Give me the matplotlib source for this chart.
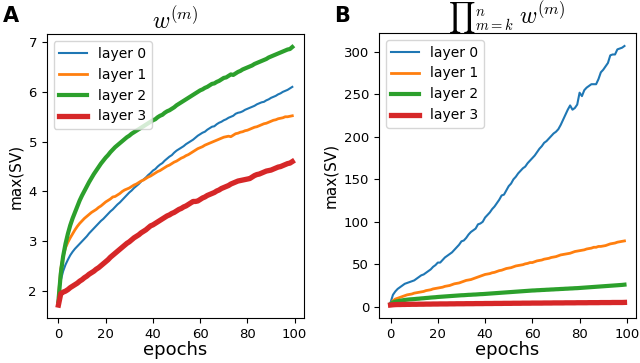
import matplotlib
matplotlib.use("Agg")
import matplotlib.pyplot as plt
import numpy as np

plt.rcParams['mathtext.fontset'] = 'cm'

epochs = np.arange(100)
labels = ["layer 0", "layer 1", "layer 2", "layer 3"]

# panel A: max singular value of each weight matrix
a_layer0 = [1.90, 2.22, 2.40, 2.53, 2.63, 2.72, 2.79, 2.85, 2.90, 2.95,
            3.00, 3.05, 3.10, 3.16, 3.21, 3.26, 3.31, 3.36, 3.41, 3.45,
            3.50, 3.55, 3.60, 3.64, 3.69, 3.74, 3.78, 3.83, 3.88, 3.93,
            3.98, 4.02, 4.07, 4.11, 4.15, 4.20, 4.24, 4.28, 4.33, 4.37,
            4.42, 4.45, 4.50, 4.54, 4.57, 4.62, 4.66, 4.70, 4.73, 4.78,
            4.82, 4.85, 4.88, 4.91, 4.95, 4.98, 5.01, 5.04, 5.08, 5.12,
            5.15, 5.18, 5.20, 5.24, 5.27, 5.30, 5.31, 5.35, 5.38, 5.40,
            5.43, 5.45, 5.48, 5.50, 5.52, 5.56, 5.58, 5.59, 5.61, 5.64,
            5.66, 5.68, 5.70, 5.72, 5.75, 5.77, 5.79, 5.80, 5.83, 5.85,
            5.88, 5.90, 5.92, 5.95, 5.97, 6.00, 6.02, 6.04, 6.07, 6.10]
a_layer1 = [1.90, 2.45, 2.70, 2.87, 2.98, 3.07, 3.15, 3.23, 3.30, 3.36,
            3.41, 3.46, 3.50, 3.54, 3.58, 3.61, 3.64, 3.68, 3.71, 3.75,
            3.79, 3.82, 3.85, 3.89, 3.90, 3.93, 3.96, 4.00, 4.03, 4.05,
            4.07, 4.10, 4.13, 4.15, 4.18, 4.21, 4.23, 4.26, 4.29, 4.31,
            4.34, 4.37, 4.40, 4.42, 4.45, 4.48, 4.51, 4.53, 4.56, 4.59,
            4.61, 4.64, 4.67, 4.69, 4.72, 4.74, 4.77, 4.80, 4.83, 4.86,
            4.88, 4.90, 4.93, 4.95, 4.97, 4.99, 5.01, 5.03, 5.05, 5.07,
            5.09, 5.10, 5.11, 5.10, 5.13, 5.16, 5.17, 5.19, 5.20, 5.22,
            5.23, 5.25, 5.27, 5.29, 5.30, 5.32, 5.34, 5.36, 5.37, 5.39,
            5.41, 5.43, 5.44, 5.46, 5.47, 5.48, 5.50, 5.50, 5.51, 5.52]
a_layer2 = [1.80, 2.35, 2.70, 2.95, 3.15, 3.32, 3.46, 3.58, 3.70, 3.82,
            3.92, 4.01, 4.10, 4.19, 4.27, 4.35, 4.42, 4.49, 4.56, 4.62,
            4.68, 4.73, 4.79, 4.84, 4.89, 4.93, 4.97, 5.01, 5.05, 5.09,
            5.12, 5.16, 5.19, 5.22, 5.25, 5.28, 5.31, 5.34, 5.37, 5.40,
            5.43, 5.45, 5.49, 5.52, 5.54, 5.58, 5.61, 5.63, 5.66, 5.69,
            5.73, 5.76, 5.79, 5.82, 5.85, 5.88, 5.91, 5.94, 5.97, 6.00,
            6.03, 6.05, 6.08, 6.10, 6.13, 6.16, 6.17, 6.20, 6.22, 6.25,
            6.28, 6.29, 6.32, 6.35, 6.34, 6.37, 6.40, 6.42, 6.45, 6.47,
            6.49, 6.51, 6.53, 6.56, 6.58, 6.60, 6.62, 6.64, 6.66, 6.69,
            6.71, 6.73, 6.75, 6.77, 6.79, 6.81, 6.83, 6.85, 6.86, 6.90]
a_layer3 = [1.72, 1.95, 1.98, 2.00, 2.03, 2.07, 2.10, 2.13, 2.16, 2.20,
            2.23, 2.27, 2.30, 2.34, 2.37, 2.40, 2.44, 2.47, 2.51, 2.55,
            2.59, 2.63, 2.68, 2.72, 2.76, 2.80, 2.84, 2.88, 2.92, 2.96,
            2.99, 3.03, 3.07, 3.10, 3.13, 3.17, 3.20, 3.23, 3.27, 3.31,
            3.33, 3.36, 3.39, 3.42, 3.45, 3.48, 3.51, 3.53, 3.56, 3.58,
            3.61, 3.64, 3.66, 3.69, 3.71, 3.74, 3.77, 3.80, 3.80, 3.81,
            3.84, 3.87, 3.89, 3.92, 3.94, 3.96, 3.98, 4.01, 4.03, 4.06,
            4.08, 4.10, 4.12, 4.15, 4.17, 4.19, 4.21, 4.22, 4.23, 4.24,
            4.25, 4.26, 4.29, 4.32, 4.34, 4.35, 4.37, 4.39, 4.41, 4.42,
            4.43, 4.45, 4.47, 4.49, 4.50, 4.52, 4.54, 4.56, 4.57, 4.60]

# panel B: max singular value of the product of weight matrices
b_layer0 = [5, 14, 18, 21, 23, 25, 27, 28, 29, 30,
            31, 33, 35, 37, 38, 40, 42, 44, 47, 49,
            52, 52, 55, 58, 60, 62, 64, 67, 70, 73,
            77, 78, 81, 85, 88, 90, 92, 97, 98, 100,
            105, 108, 111, 115, 118, 122, 126, 131, 132, 137,
            142, 145, 150, 153, 157, 160, 163, 165, 169, 172,
            175, 178, 182, 186, 189, 193, 195, 198, 201, 204,
            206, 209, 214, 220, 226, 232, 237, 232, 234, 238,
            252, 248, 255, 258, 260, 262, 262, 262, 268, 276,
            279, 283, 287, 296, 297, 297, 303, 304, 305, 307]
b_layer1 = [3, 7, 9, 10, 11, 12, 13, 14, 14.5, 15,
            16, 16.5, 17, 17.5, 18, 19, 19.5, 20, 21, 21.5,
            22, 22.5, 23, 24, 24.5, 25, 26, 27, 27.5, 28,
            29, 30, 31, 31.5, 32, 33, 34, 35, 36, 37,
            38, 38.5, 39, 40, 40.5, 41.5, 42.5, 43, 44, 45,
            45.5, 46, 47, 48, 48.5, 49, 49.5, 50.5, 51, 52,
            52, 53, 54, 54.5, 55, 56, 56.5, 57, 58, 58.5,
            59, 60, 61, 61.5, 62, 62.5, 63, 64, 65, 65.5,
            66, 66.5, 67, 68, 68.5, 69, 70, 70, 71, 71,
            71.5, 72, 73, 74, 74.5, 75, 76, 76.5, 77, 77.5]
b_layer2 = [3, 5, 6, 6.5, 7, 7.5, 8, 8.3, 8.6, 8.8,
            9, 9.3, 9.5, 9.8, 10, 10.3, 10.5, 10.8, 11, 11.2,
            11.5, 11.7, 11.9, 12.1, 12.3, 12.5, 12.7, 12.9, 13.1, 13.3,
            13.5, 13.6, 13.8, 14, 14.1, 14.3, 14.4, 14.6, 14.8, 14.9,
            15.1, 15.3, 15.5, 15.7, 15.9, 16.1, 16.3, 16.5, 16.7, 16.9,
            17.1, 17.3, 17.5, 17.7, 17.9, 18.1, 18.3, 18.5, 18.7, 18.9,
            19.1, 19.2, 19.4, 19.5, 19.7, 19.8, 20, 20.1, 20.3, 20.4,
            20.6, 20.7, 20.9, 21, 21.2, 21.3, 21.5, 21.6, 21.8, 21.9,
            22.1, 22.3, 22.5, 22.7, 22.9, 23.1, 23.3, 23.5, 23.7, 23.9,
            24.1, 24.3, 24.5, 24.7, 24.9, 25.1, 25.3, 25.5, 25.7, 26]
b_layer3 = [2.0, 2.3, 2.5, 2.6, 2.6, 2.7, 2.7, 2.8, 2.8, 2.9,
            2.9, 2.9, 3.0, 3.0, 3.0, 3.1, 3.1, 3.1, 3.2, 3.2,
            3.2, 3.3, 3.3, 3.3, 3.3, 3.4, 3.4, 3.4, 3.5, 3.5,
            3.5, 3.5, 3.6, 3.6, 3.6, 3.6, 3.7, 3.7, 3.7, 3.7,
            3.8, 3.8, 3.8, 3.8, 3.9, 3.9, 3.9, 3.9, 4.0, 4.0,
            4.0, 4.0, 4.1, 4.1, 4.1, 4.1, 4.2, 4.2, 4.2, 4.2,
            4.3, 4.3, 4.3, 4.3, 4.3, 4.4, 4.4, 4.4, 4.4, 4.5,
            4.5, 4.5, 4.5, 4.5, 4.6, 4.6, 4.6, 4.6, 4.6, 4.7,
            4.7, 4.7, 4.7, 4.7, 4.8, 4.8, 4.8, 4.8, 4.8, 4.9,
            4.9, 4.9, 4.9, 4.9, 5.0, 5.0, 5.0, 5.0, 5.0, 5.1]

widths = [1.5, 2.0, 3.0, 3.8]


def draw(ax, series):
    for y, lab, lw in zip(series, labels, widths):
        ax.plot(epochs, y, lw=lw, label=lab)
    ax.set_xlabel("epochs", fontsize=13, labelpad=0)
    ax.set_ylabel("max(SV)", fontsize=11)
    ax.set_xticks([0, 20, 40, 60, 80, 100])
    ax.tick_params(labelsize=9.5)
    ax.legend(loc="upper left", fontsize=10, handlelength=2.0)


fig = plt.figure(figsize=(6.4, 3.63), dpi=100)
ax1 = fig.add_axes([0.073, 0.124, 0.402, 0.782])
ax2 = fig.add_axes([0.592, 0.124, 0.402, 0.785])

draw(ax1, [a_layer0, a_layer1, a_layer2, a_layer3])
draw(ax2, [b_layer0, b_layer1, b_layer2, b_layer3])

ax1.set_title(r"$w^{(m)}$", fontsize=17, pad=3)
# product sign drawn smaller than the w, as in the original
ax2.text(0.525, 1.03, r"${\prod}_{m=k}^{n}$", fontsize=15, ha="right",
         va="baseline", transform=ax2.transAxes)
ax2.text(0.545, 1.03, r"$w^{(m)}$", fontsize=17, ha="left",
         va="baseline", transform=ax2.transAxes)

fig.text(0.005, 0.955, "A", fontsize=15, fontweight="bold", va="center")
fig.text(0.522, 0.955, "B", fontsize=15, fontweight="bold", va="center")

fig.savefig("out.png", dpi=100)
